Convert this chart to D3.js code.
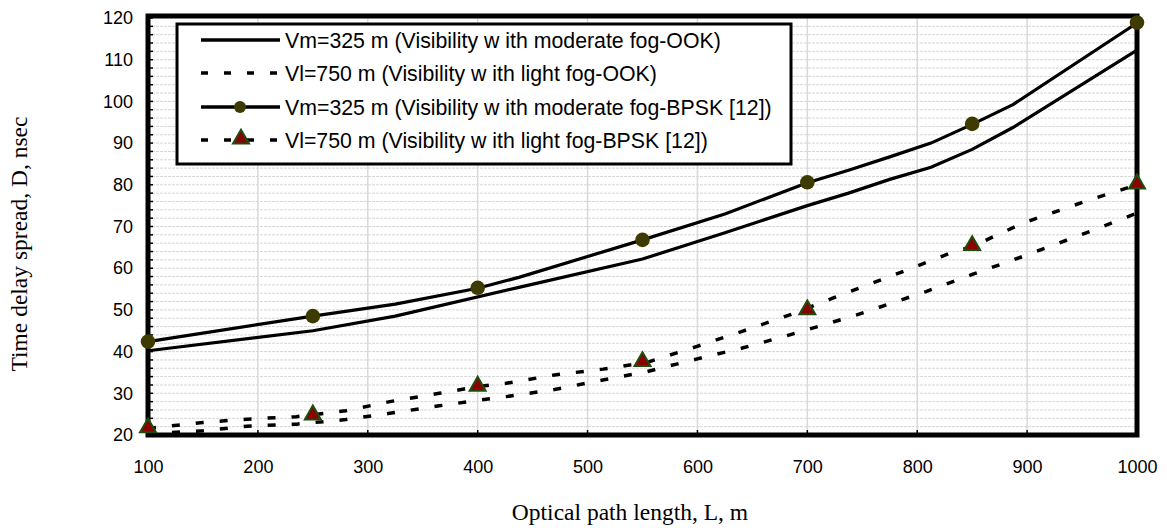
<!DOCTYPE html>
<html>
<head>
<meta charset="utf-8">
<script src="https://cdn.jsdelivr.net/npm/d3@7"></script>
<style>
  body { margin: 0; background: #fff; }
  svg { display: block; }
</style>
</head>
<body>
<div id="chart"></div>
<script>
// Vm=325 m, OOK (solid, no markers)
var lenOokVm = [100, 250, 325, 437.5, 550, 625, 700, 737.5, 775, 812.5, 850, 887.5, 1000];
var delayOokVm = [40.2, 45, 48.5, 55.4, 62.2, 68.5, 75, 78, 81.3, 84.2, 88.5, 93.8, 112.3];

// Vl=750 m, OOK (dashed, no markers)
var lenOokVl = [100, 150, 190, 235, 280, 320, 365, 400, 426, 470, 514, 554, 599, 640, 684, 745, 808, 850, 896, 957, 1000];
var delayOokVl = [20.3, 21, 22.1, 22.6, 23.7, 25.2, 27, 28.3, 29.2, 30.9, 33.2, 35.2, 38.2, 40.8, 44, 48.8, 54.4, 58.5, 62.8, 68.8, 73.2];

// Vm=325 m, BPSK [12] (solid with circles)
var lenBpskVm = [100, 250, 325, 400, 437.5, 550, 625, 700, 737.5, 775, 812.5, 850, 887.5, 1000];
var delayBpskVm = [42.4, 48.5, 51.4, 55.2, 57.8, 66.8, 73, 80.5, 83.5, 86.7, 90, 94.5, 99.3, 118.8];
var markLenBpskVm = [100, 250, 400, 550, 700, 850, 1000];
var markDelayBpskVm = [42.4, 48.5, 55.3, 66.8, 80.6, 94.6, 118.9];

// Vl=750 m, BPSK [12] (dashed with triangles)
var lenBpskVl = [100, 150, 190, 235, 280, 320, 365, 400, 426, 470, 514, 554, 599, 640, 684, 723, 787, 830, 850, 896, 957, 1000];
var delayBpskVl = [21.6, 23, 23.8, 24.4, 25.8, 28, 30, 31.6, 32.4, 34.4, 35.8, 37.4, 41.2, 44.8, 48.8, 52.8, 59.2, 63.6, 65.2, 70.8, 76.4, 80];
var markLenBpskVl = [100, 250, 400, 550, 700, 850, 1000];
var markDelayBpskVl = [21.5, 24.6, 31.5, 37.4, 49.8, 65.2, 80];

var xTicks = [100, 200, 300, 400, 500, 600, 700, 800, 900, 1000];
var yTicks = [20, 30, 40, 50, 60, 70, 80, 90, 100, 110, 120];

var legendLabels = [
    "Vm=325 m (Visibility w ith moderate fog-OOK)",
    "Vl=750 m (Visibility w ith light fog-OOK)",
    "Vm=325 m (Visibility w ith moderate fog-BPSK [12])",
    "Vl=750 m (Visibility w ith light fog-BPSK [12])"
];

var width = 1167, height = 528;
var margin = { top: 18, right: 30, bottom: 93, left: 148 };
var mwidth = width - margin.left - margin.right;
var mheight = height - margin.top - margin.bottom;

var xScale = d3.scaleLinear().domain([100, 1000]).range([0, mwidth]);
var yScale = d3.scaleLinear().domain([20, 120]).range([mheight, 0]);

var svg = d3.select("#chart").append("svg")
    .attr("width", width)
    .attr("height", height);

var g = svg.append("g")
    .attr("transform", "translate(" + margin.left + "," + margin.top + ")");

// grid: horizontal every 2, vertical every 100
g.append("g").selectAll("line")
    .data(d3.range(22, 120, 2))
    .join("line")
    .attr("x1", 0).attr("x2", mwidth)
    .attr("y1", d => yScale(d)).attr("y2", d => yScale(d))
    .attr("stroke", "#d6d6d6")
    .attr("stroke-width", 1)
    .attr("stroke-dasharray", "3,1");

g.append("g").selectAll("line")
    .data(xTicks.slice(1, -1))
    .join("line")
    .attr("x1", d => xScale(d)).attr("x2", d => xScale(d))
    .attr("y1", 0).attr("y2", mheight)
    .attr("stroke", "#d9d9d9")
    .attr("stroke-width", 1.5);

// axes
var yAxis = d3.axisLeft(yScale).tickValues(yTicks).tickSize(0).tickPadding(15);
var xAxis = d3.axisBottom(xScale).tickValues(xTicks).tickFormat(d3.format("d"))
    .tickSize(0).tickPadding(25);

var yg = g.append("g").call(yAxis);
var xg = g.append("g").attr("transform", "translate(0," + mheight + ")").call(xAxis);
[yg, xg].forEach(function (a) {
    a.select(".domain").remove();
    a.selectAll("text")
        .style("font-family", "'Liberation Sans', Arial, sans-serif")
        .style("font-size", "18px")
        .attr("fill", "#000");
});

// minor inward ticks on y, inward ticks on x
g.append("g").selectAll("line")
    .data(d3.range(20, 121, 2))
    .join("line")
    .attr("x1", 0).attr("x2", 5)
    .attr("y1", d => yScale(d)).attr("y2", d => yScale(d))
    .attr("stroke", "#000").attr("stroke-width", 1.5);
g.append("g").selectAll("line")
    .data(xTicks)
    .join("line")
    .attr("x1", d => xScale(d)).attr("x2", d => xScale(d))
    .attr("y1", mheight).attr("y2", mheight - 5)
    .attr("stroke", "#000").attr("stroke-width", 1.5);

// frame
g.append("rect")
    .attr("x", 0).attr("y", -2)
    .attr("width", mwidth).attr("height", mheight + 2)
    .attr("fill", "none")
    .attr("stroke", "#000")
    .attr("stroke-width", 5);

var line = d3.line()
    .x(d => xScale(d[0]))
    .y(d => yScale(d[1]));

function drawLine(lens, delays, dashed) {
    g.append("path")
        .datum(d3.zip(lens, delays))
        .attr("d", line)
        .attr("fill", "none")
        .attr("stroke", "#000")
        .attr("stroke-width", dashed ? 3.5 : 3.2)
        .attr("stroke-dasharray", dashed ? "8,16" : null);
}

drawLine(lenOokVm, delayOokVm, false);
drawLine(lenOokVl, delayOokVl, true);
drawLine(lenBpskVm, delayBpskVm, false);
drawLine(lenBpskVl, delayBpskVl, true);

var circleColor = "#3d3b00";
var triFill = "#8b0000", triStroke = "#1e4d0c";
var triangle = d3.symbol().type(d3.symbolTriangle).size(110);

g.append("g").selectAll("circle")
    .data(d3.zip(markLenBpskVm, markDelayBpskVm))
    .join("circle")
    .attr("cx", d => xScale(d[0]))
    .attr("cy", d => yScale(d[1]))
    .attr("r", 7.3)
    .attr("fill", circleColor);

g.append("g").selectAll("path")
    .data(d3.zip(markLenBpskVl, markDelayBpskVl))
    .join("path")
    .attr("d", triangle)
    .attr("transform", d => "translate(" + xScale(d[0]) + "," + (yScale(d[1]) - 1) + ")")
    .attr("fill", triFill)
    .attr("stroke", triStroke)
    .attr("stroke-width", 2);

// legend
var lg = svg.append("g");
lg.append("rect")
    .attr("x", 177).attr("y", 24)
    .attr("width", 614).attr("height", 140)
    .attr("fill", "#fff")
    .attr("stroke", "#000")
    .attr("stroke-width", 3);

var rowY = [40, 73, 107, 140];
legendLabels.forEach(function (label, i) {
    var y = rowY[i];
    var dashed = (i % 2 === 1);
    lg.append("line")
        .attr("x1", 201).attr("x2", 280)
        .attr("y1", y).attr("y2", y)
        .attr("stroke", "#000")
        .attr("stroke-width", 3.5)
        .attr("stroke-dasharray", dashed ? "7,16" : null);
    if (i === 2) {
        lg.append("circle").attr("cx", 240).attr("cy", y).attr("r", 6).attr("fill", circleColor);
    }
    if (i === 3) {
        lg.append("path").attr("d", triangle)
            .attr("transform", "translate(241," + (y - 1) + ")")
            .attr("fill", triFill).attr("stroke", triStroke).attr("stroke-width", 2);
    }
    lg.append("text")
        .attr("x", 285).attr("y", y + 7.5)
        .style("font-family", "'Liberation Sans', Arial, sans-serif")
        .style("font-size", "21.3px")
        .text(label);
});

// axis titles
svg.append("text")
    .attr("x", 630)
    .attr("y", 520)
    .attr("text-anchor", "middle")
    .style("font-family", "'Liberation Serif', 'Times New Roman', serif")
    .style("font-size", "23.5px")
    .text("Optical path length, L, m");

svg.append("text")
    .attr("transform", "translate(27,244) rotate(-90)")
    .attr("text-anchor", "middle")
    .style("font-family", "'Liberation Serif', 'Times New Roman', serif")
    .style("font-size", "23.5px")
    .text("Time delay spread, D, nsec");
</script>
</body>
</html>
